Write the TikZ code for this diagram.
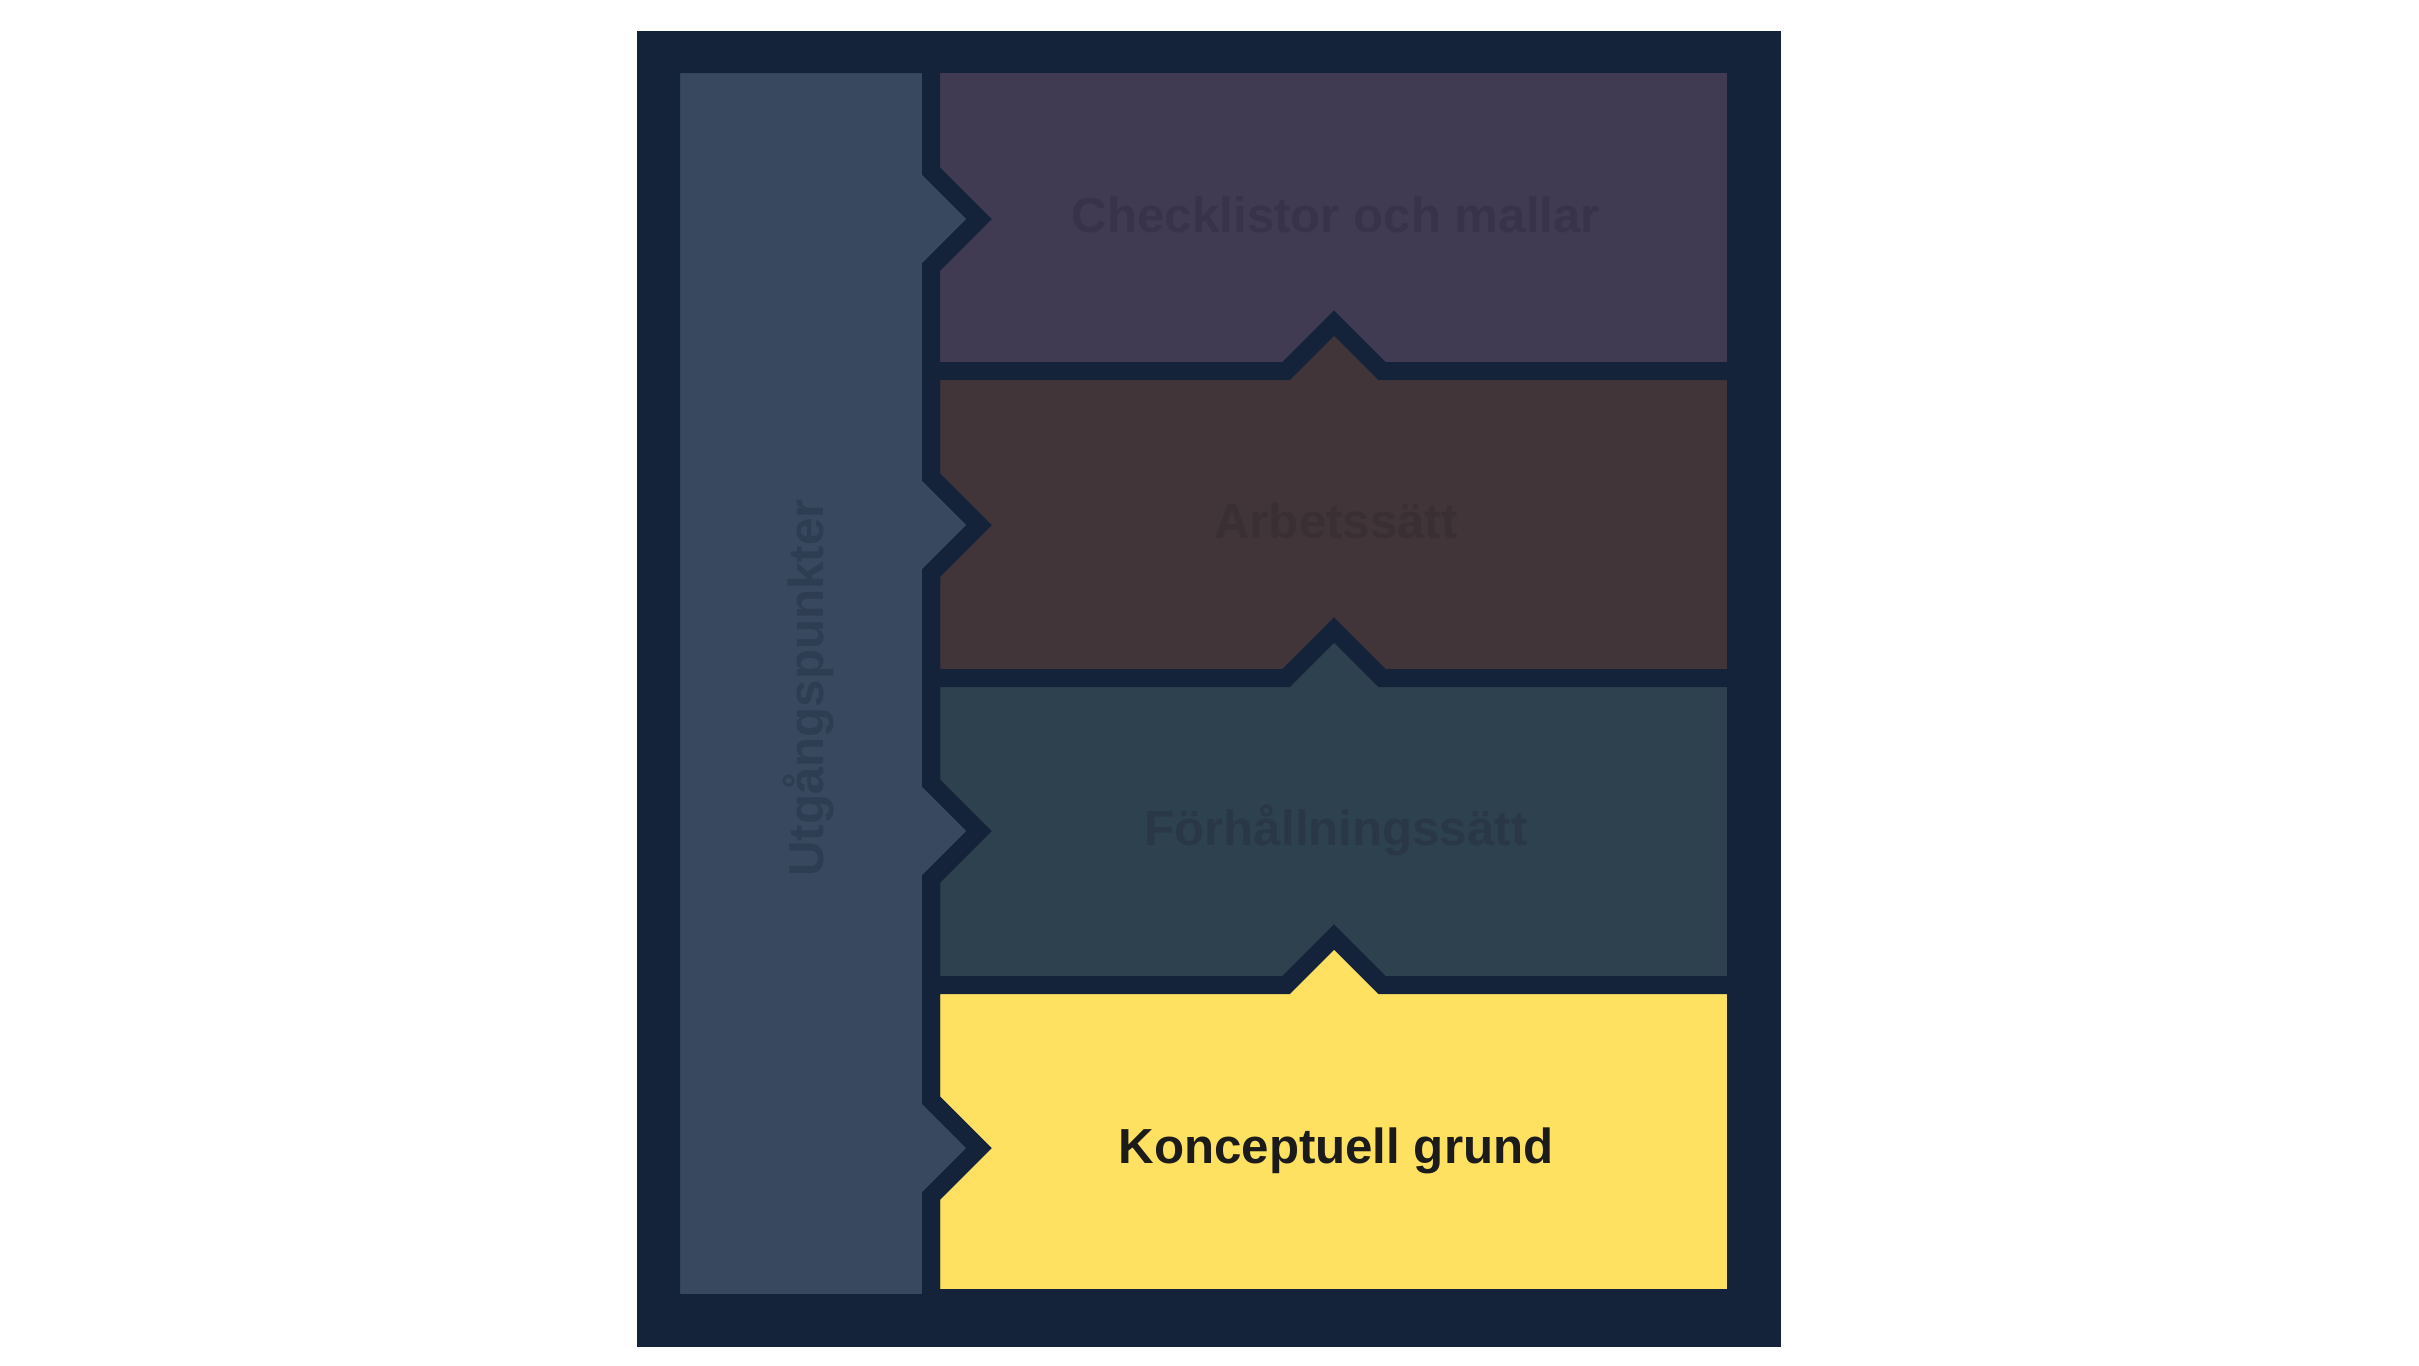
\documentclass[tikz,border=0pt]{standalone}
\usepackage{fontspec}
\setmainfont{Liberation Sans}
\usepackage{tikz}

\definecolor{rim}{HTML}{14223A}
\definecolor{colbg}{HTML}{38485E}
\definecolor{coltx}{HTML}{2E3D51}
\definecolor{chkbg}{HTML}{403B53}
\definecolor{chktx}{HTML}{383349}
\definecolor{arbbg}{HTML}{41353A}
\definecolor{arbtx}{HTML}{3A2F33}
\definecolor{forbg}{HTML}{2D414F}
\definecolor{fortx}{HTML}{2A3846}
\definecolor{konbg}{HTML}{FFE162}
\definecolor{kontx}{HTML}{1B1B1B}

\begin{document}
\begin{tikzpicture}[x=0.01cm,y=-0.01cm,
    lbl/.style={font=\fontsize{14}{17}\selectfont\bfseries,anchor=base,inner sep=0pt},
    tile/.style={draw=rim,line width=0.18cm,line join=miter}]

        \useasboundingbox (0,0) rectangle (2419,1365);
        \fill[rim] (637,31) rectangle (1781,1347);

        % layers, top one first, the lower ones point up into it
        \filldraw[tile,fill=chkbg] (931,64) rectangle (1736,371);
        \foreach \t/\b/\c in {371/678/arbbg,678/985/forbg,985/1298/konbg} {
          \filldraw[tile,fill=\c] (931,\t) -- (1286,\t) -- (1334,\t-48) -- (1382,\t)
            -- (1736,\t) -- (1736,\b) -- (931,\b) -- cycle;
        }
        % left column
        \filldraw[tile,fill=colbg] (671,64) -- (931,64)
          \foreach \m in {219,525,831,1148} { -- (931,\m-48) -- (979,\m) -- (931,\m+48) }
          -- (931,1303) -- (671,1303) -- cycle;

        \node[lbl,text=chktx] (chk) at (1336,232) {Checklistor och mallar};
        \node[lbl,text=arbtx] (arb) at (1336,538) {Arbetssätt};
        \node[lbl,text=fortx] (forh) at (1336,845) {Förhållningssätt};
        \node[lbl,text=kontx] (konc) at (1336,1163) {Konceptuell grund};
        \node[lbl,text=coltx,rotate=90] (utg) at (823,688) {Utgångspunkter};
 %     \end{scope}
    \end{tikzpicture}
\end{document}
